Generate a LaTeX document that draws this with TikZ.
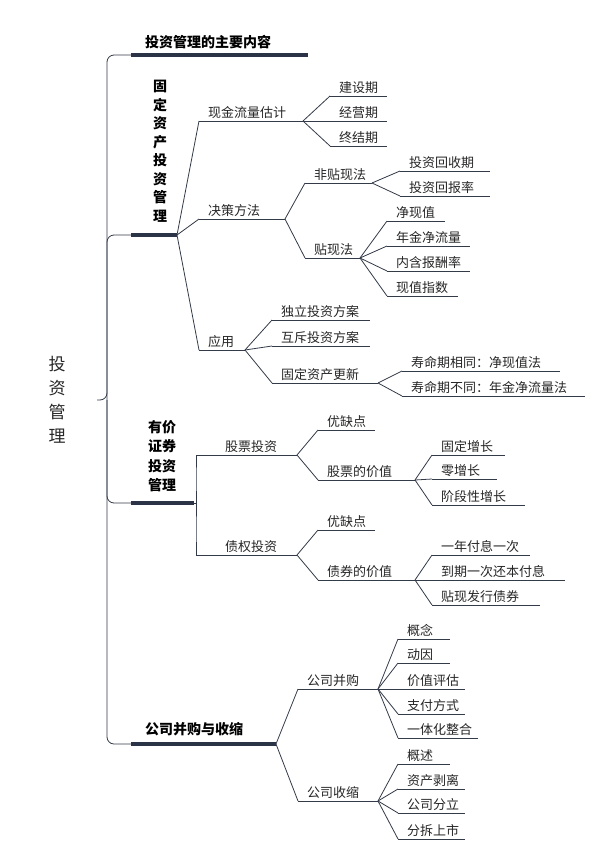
\documentclass[tikz,border=0pt]{standalone}
\usepackage{fontspec}
\newfontfamily\cjk{Noto Sans CJK SC}
\definecolor{navy}{HTML}{2B3447}
\definecolor{ink}{HTML}{333A48}
\tikzset{
  tp/.style={inner xsep=9pt,inner ysep=2pt,font=\cjk\fontsize{13}{15}\selectfont,text=black!85},
  ul/.style={draw=ink,line width=0.8pt},
  bigul/.style={draw=navy,line width=3.2pt},
  ln/.style={draw=ink,line width=0.8pt},
}
% name, x left, y underline, x right, text
\newcommand\topic[6][]{%
  \node[tp,anchor=south west,#1] (#2) at (#3,#4) {#6};
  \coordinate (#2-l) at (#3,#4);
  \coordinate (#2-r) at (#5,#4);
  \draw[ul] (#2-l) -- (#2-r);}
\newcommand\link[2]{\draw[ln] (#1-r) -- (#2-l);}
\newcommand\elbow[2]{\draw[ln] (#1-r) -| ($(#1-r)!0.5!(#2-l)$) |- (#2-l);}
\usetikzlibrary{calc}
\begin{document}
\begin{tikzpicture}[x=1pt,y=-1pt]
\useasboundingbox (0,0) rectangle (611,854);

% root
\node[font=\cjk\fontsize{17}{24}\selectfont,align=center,text=black!85] (root) at (57,400) {投\\资\\管\\理};
\coordinate (root-r) at (97,400);

% level 1
\node[font=\cjk\bfseries\fontsize{14}{16}\selectfont,anchor=south west,inner sep=2pt] (main) at (143,51) {投资管理的主要内容};
\coordinate (main-l) at (131,55); \coordinate (main-r) at (308,55);
\node[font=\cjk\bfseries\fontsize{14}{18.5}\selectfont,align=center] (fixed) at (160,151) {固\\定\\资\\产\\投\\资\\管\\理};
\coordinate (fixed-l) at (131,235); \coordinate (fixed-r) at (177,235);
\node[font=\cjk\bfseries\fontsize{14}{19.5}\selectfont,align=center] (sec) at (162,456) {有价\\证券\\投资\\管理};
\coordinate (sec-l) at (131,503); \coordinate (sec-r) at (194,503);
\node[font=\cjk\bfseries\fontsize{14}{16}\selectfont,anchor=south west,inner sep=2pt] (merge) at (143,738) {公司并购与收缩};
\coordinate (merge-l) at (131,744); \coordinate (merge-r) at (276,744);
\foreach \n in {main,fixed,sec,merge}
  \draw[bigul] (\n-l) -- (\n-r);
\draw[ln,rounded corners=7pt] (root-r) -- (107,400) |- (main-l);
\draw[ln,rounded corners=7pt] (107,400) |- (fixed-l);
\draw[ln,rounded corners=7pt] (107,400) |- (sec-l);
\draw[ln,rounded corners=7pt] (107,400) |- (merge-l);

% fixed assets
\topic{cash}{199}{121}{303}{现金流量估计}
\topic{build}{330}{96}{387}{建设期}
\topic{run}{330}{121}{387}{经营期}
\topic{end}{330}{146}{387}{终结期}
\topic{dec}{199}{219}{285}{决策方法}
\topic{nondis}{305}{183}{372}{非贴现法}
\topic{payback}{400}{171}{490}{投资回收期}
\topic{roi}{400}{196}{490}{投资回报率}
\topic{dis}{305}{258}{360}{贴现法}
\topic{npv}{387}{221}{445}{净现值}
\topic{annu}{387}{246}{470}{年金净流量}
\topic{irr}{387}{271}{470}{内含报酬率}
\topic{pi}{387}{296}{458}{现值指数}
\topic{use}{199}{350}{245}{应用}
\topic{indep}{272}{320}{370}{独立投资方案}
\topic{excl}{272}{346}{370}{互斥投资方案}
\topic{renew}{272}{383}{378}{固定资产更新}
\topic{same}{402}{371}{560}{寿命期相同：净现值法}
\topic{diff}{402}{396}{585}{寿命期不同：年金净流量法}
\link{fixed}{cash} \link{fixed}{dec} \link{fixed}{use}
\link{cash}{build} \link{cash}{run} \link{cash}{end}
\link{dec}{nondis} \link{dec}{dis}
\link{nondis}{payback} \link{nondis}{roi}
\link{dis}{npv} \link{dis}{annu} \link{dis}{irr} \link{dis}{pi}
\link{use}{indep} \link{use}{excl} \link{use}{renew}
\link{renew}{same} \link{renew}{diff}

% securities
\topic[inner xsep=27pt]{stock}{198}{455}{297}{股票投资}
\topic{sprocon}{318}{430}{375}{优缺点}
\topic{sval}{318}{480}{415}{股票的价值}
\topic{fixg}{432}{455}{505}{固定增长}
\topic{zerog}{432}{479}{497}{零增长}
\topic{stage}{432}{505}{525}{阶段性增长}
\topic[inner xsep=27pt]{bond}{198}{555}{297}{债权投资}
\topic{bprocon}{318}{530}{375}{优缺点}
\topic{bval}{318}{580}{415}{债券的价值}
\topic{yearly}{432}{555}{530}{一年付息一次}
\topic{once}{432}{580}{565}{到期一次还本付息}
\topic{discb}{432}{605}{540}{贴现发行债券}
\elbow{sec}{stock} \elbow{sec}{bond}
\link{stock}{sprocon} \link{stock}{sval}
\link{sval}{fixg} \link{sval}{zerog} \link{sval}{stage}
\link{bond}{bprocon} \link{bond}{bval}
\link{bval}{yearly} \link{bval}{once} \link{bval}{discb}

% mergers
\topic{acq}{298}{689}{378}{公司并购}
\topic{concept}{398}{639}{450}{概念}
\topic{motive}{398}{663}{450}{动因}
\topic{valu}{398}{689}{465}{价值评估}
\topic{pay}{398}{714}{465}{支付方式}
\topic{integ}{398}{738}{478}{一体化整合}
\topic{shrink}{298}{801}{378}{公司收缩}
\topic{over}{398}{764}{450}{概述}
\topic{strip}{398}{789}{465}{资产剥离}
\topic{split}{398}{813}{465}{公司分立}
\topic{spin}{398}{839}{465}{分拆上市}
\link{merge}{acq} \link{merge}{shrink}
\foreach \c in {concept,motive,valu,pay,integ} {\link{acq}{\c}}
\foreach \c in {over,strip,split,spin} {\link{shrink}{\c}}
\end{tikzpicture}
\end{document}
